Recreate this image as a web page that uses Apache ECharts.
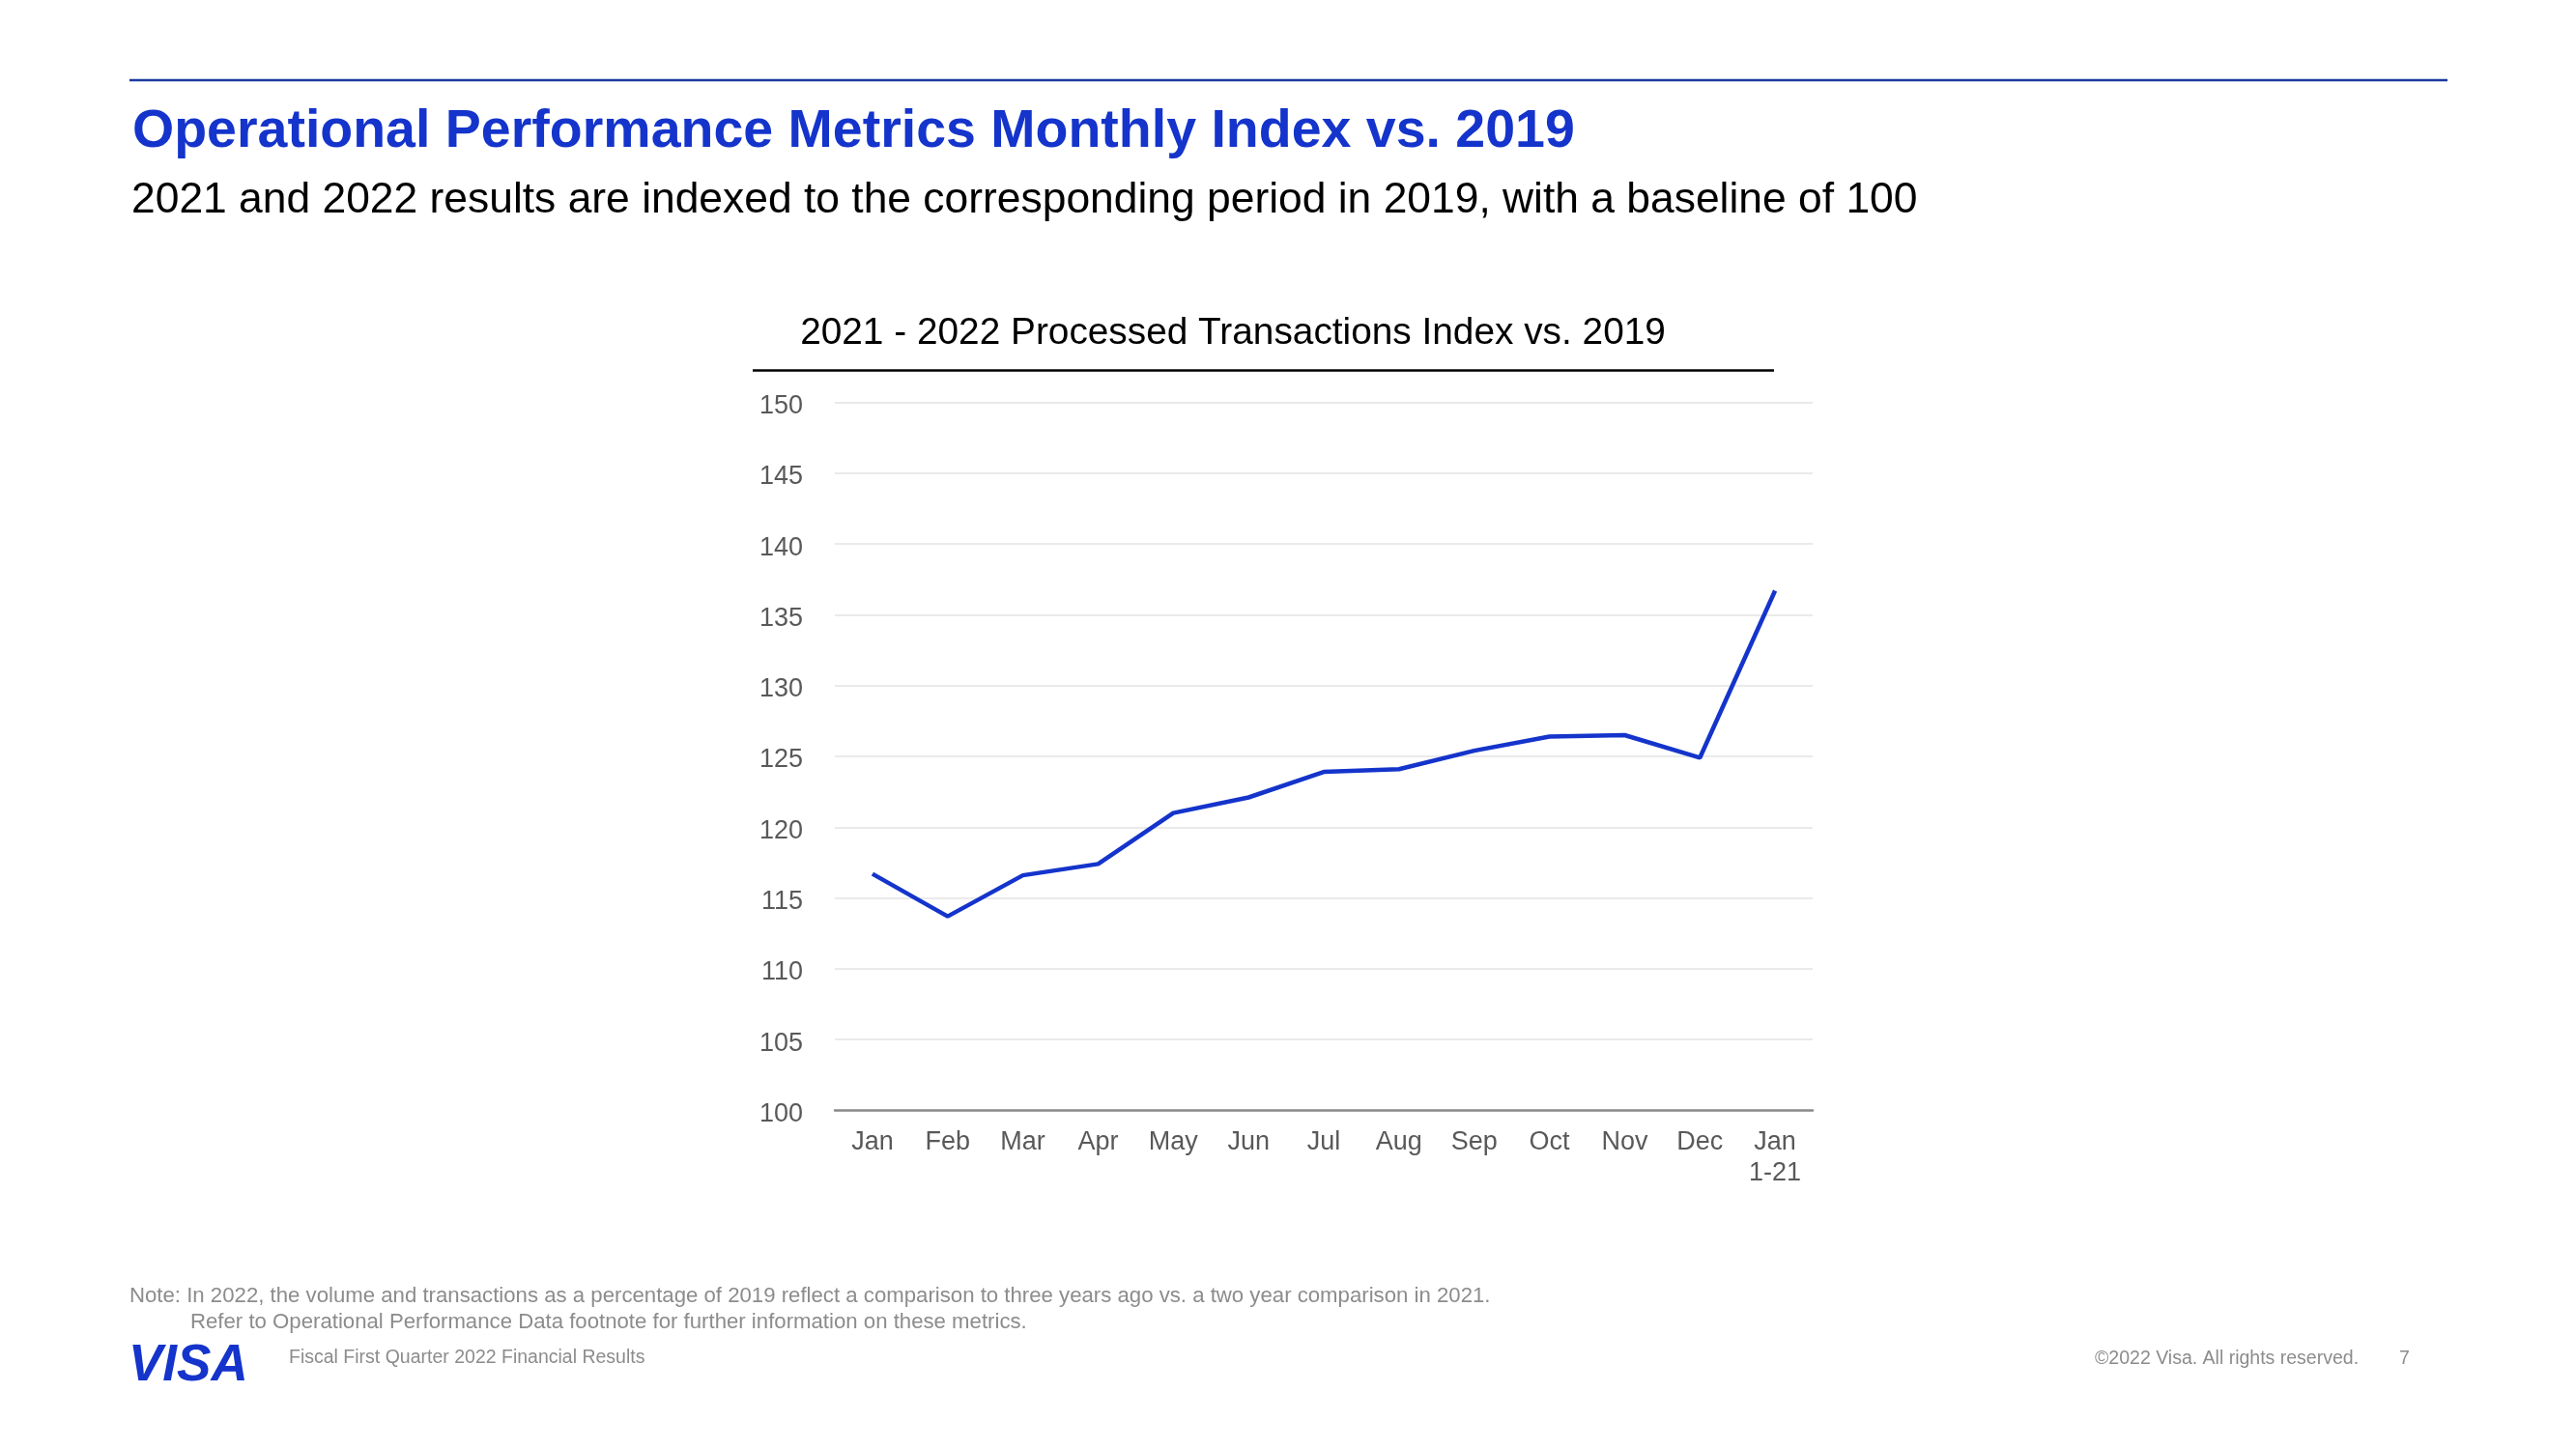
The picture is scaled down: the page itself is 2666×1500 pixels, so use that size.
<!DOCTYPE html>
<html>
<head>
<meta charset="utf-8">
<script src="https://cdn.jsdelivr.net/npm/echarts@6/dist/echarts.min.js"></script>
<style>
html,body{margin:0;padding:0;background:#fff;}
#chart{width:2666px;height:1500px;}
</style>
</head>
<body>
<div id="chart"></div>
<script>
const categories = ['Jan','Feb','Mar','Apr','May','Jun','Jul','Aug','Sep','Oct','Nov','Dec','Jan\n1-21'];
const indexValues = [116.7, 113.7, 116.6, 117.4, 121.0, 122.1, 123.9, 124.1, 125.4, 126.4, 126.5, 124.9, 136.7];
const yMin = 100, yMax = 150, yStep = 5;

const FONT = '"Liberation Sans", Arial, sans-serif';
const BLUE = '#1434CB';
const chart = echarts.init(document.getElementById('chart'), null, {renderer:'canvas'});
chart.setOption({
  backgroundColor:'#ffffff',
  animation:false,
  title:[
    {text:'Operational Performance Metrics Monthly Index vs. 2019', left:132, top:104,
     textStyle:{fontFamily:FONT, fontSize:55.5, fontWeight:'bold', color:BLUE}},
    {text:'2021 and 2022 results are indexed to the corresponding period in 2019, with a baseline of 100', left:131, top:181,
     textStyle:{fontFamily:FONT, fontSize:44.4, fontWeight:'normal', color:'#000'}},
    {text:'2021 - 2022 Processed Transactions Index vs. 2019', left:1271, top:321, textAlign:'center',
     textStyle:{fontFamily:FONT, fontSize:38.8, fontWeight:'normal', color:'#000'}}
  ],
  grid:{left:864, top:416.6, width:1012, height:732.8, containLabel:false},
  xAxis:{
    type:'category', data:categories, boundaryGap:true,
    axisLine:{lineStyle:{color:'#8a8a8a', width:2.5}},
    axisTick:{show:false},
    axisLabel:{fontFamily:FONT, fontSize:27, color:'#595959', margin:17, lineHeight:32, interval:0}
  },
  yAxis:{
    type:'value', min:yMin, max:yMax, interval:yStep,
    axisLine:{show:false}, axisTick:{show:false},
    axisLabel:{margin:33, formatter:'{v|{value}}',
      rich:{v:{fontFamily:FONT, fontSize:27, color:'#595959', lineHeight:27, padding:[8,0,0,0]}}},
    splitLine:{lineStyle:{color:'#e3e3e3', width:1.5}}
  },
  series:[{
    type:'line', data:indexValues, symbol:'none',
    lineStyle:{color:BLUE, width:4.5}
  }],
  graphic:[
    {type:'line', shape:{x1:134, y1:83, x2:2533, y2:83}, style:{stroke:'#1b3aa0', lineWidth:2.5}},
    {type:'line', shape:{x1:779, y1:383.5, x2:1836, y2:383.5}, style:{stroke:'#000', lineWidth:2.5}},
    {type:'text', left:134, top:1331, style:{text:'Note: In 2022, the volume and transactions as a percentage of 2019 reflect a comparison to three years ago vs. a two year comparison in 2021.', font:'22.2px '+FONT, fill:'#8c8c8c'}},
    {type:'text', left:197, top:1358, style:{text:'Refer to Operational Performance Data footnote for further information on these metrics.', font:'22.2px '+FONT, fill:'#8c8c8c'}},
    {type:'text', left:133, top:1388, style:{text:'VISA', font:'italic 900 53px '+FONT, fill:BLUE}},
    {type:'text', left:299, top:1396, style:{text:'Fiscal First Quarter 2022 Financial Results', font:'19.5px '+FONT, fill:'#8c8c8c'}},
    {type:'text', left:2168, top:1397, style:{text:'©2022 Visa. All rights reserved.', font:'19.5px '+FONT, fill:'#8c8c8c'}},
    {type:'text', left:2483, top:1397, style:{text:'7', font:'19.5px '+FONT, fill:'#8c8c8c'}}
  ]
});
</script>
</body>
</html>
